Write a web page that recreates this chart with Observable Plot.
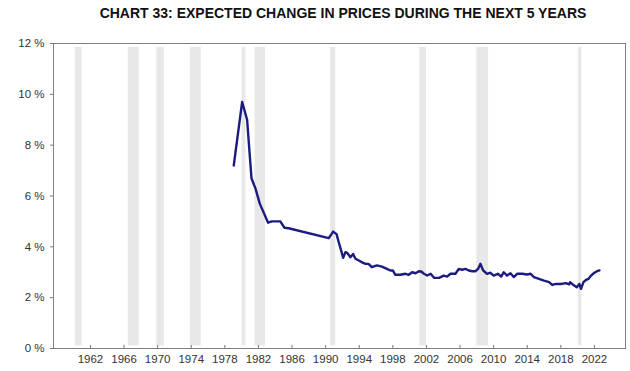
<!DOCTYPE html>
<html>
<head>
<meta charset="utf-8">
<script src="https://cdn.jsdelivr.net/npm/d3@7"></script>
<script src="https://cdn.jsdelivr.net/npm/@observablehq/plot@0.6"></script>
<style>
  body { margin: 0; background: #fff; font-family: "Liberation Sans", Arial, sans-serif; }
  #wrap { position: relative; width: 630px; height: 371px; }
  #title { position: absolute; left: 55px; width: 576px; top: 5px; text-align: center;
           font-weight: bold; font-size: 14px; color: #111; }
  #ylab { position: absolute; left: 9px; top: 187px; transform: translate(-50%, -50%) rotate(-90deg);
          white-space: nowrap; font-size: 11.5px; color: #333; }
  #chart { position: absolute; left: 0; top: 30px; }
</style>
</head>
<body>
<div id="wrap">
  <div id="title">CHART 33: EXPECTED CHANGE IN PRICES DURING THE NEXT 5 YEARS</div>
  <div id="ylab">MEDIAN PRICE INCREASE</div>
  <div id="chart"></div>
</div>
<script>
const years = [1979.06,1980.06,1980.65,1981.17,1981.64,1982.16,1983.15,1983.6,1984.6,1985.1,
  1985.6,1990.37,1990.9,1991.3,1991.56,1991.84,1992.08,1992.36,1992.6,1992.95,
  1993.27,1993.55,1993.95,1994.34,1994.74,1995.1,1995.5,1996.1,1996.7,1997.3,
  1997.7,1998.0,1998.3,1998.9,1999.5,1999.9,2000.3,2000.7,2001.1,2001.4,
  2001.7,2002.1,2002.5,2002.9,2003.5,2004.06,2004.46,2004.86,2005.45,2005.85,
  2006.25,2006.65,2007.04,2007.44,2007.83,2008.15,2008.43,2008.75,2009.2,2009.6,
  2010.0,2010.5,2010.9,2011.2,2011.6,2012.0,2012.4,2012.8,2013.4,2014.0,
  2014.4,2014.8,2015.4,2016.0,2016.6,2017.0,2017.4,2018.0,2018.6,2019.0,
  2019.1,2019.5,2019.9,2020.2,2020.4,2020.7,2021.0,2021.3,2021.6,2021.9,
  2022.3,2022.6];
const medianIncrease = [7.2,9.7,9.0,6.7,6.3,5.7,4.95,5.0,5.0,4.75,
  4.73,4.34,4.6,4.5,4.18,3.86,3.57,3.79,3.75,3.59,
  3.72,3.53,3.46,3.39,3.33,3.33,3.2,3.27,3.22,3.13,
  3.07,3.07,2.9,2.9,2.94,2.9,3.0,2.96,3.04,3.03,
  2.94,2.87,2.94,2.78,2.78,2.87,2.83,2.94,2.94,3.13,
  3.1,3.13,3.07,3.04,3.04,3.13,3.33,3.07,2.94,2.98,
  2.87,2.94,2.83,3.0,2.87,2.96,2.81,2.94,2.94,2.91,
  2.94,2.81,2.74,2.67,2.61,2.5,2.54,2.54,2.57,2.52,
  2.61,2.5,2.41,2.54,2.35,2.61,2.7,2.74,2.87,2.96,
  3.04,3.07];
const recessionStart = [1960.2,1966.5,1969.9,1973.9,1980.05,1981.6,1990.6,2001.2,2008.0,2020.1];
const recessionEnd   = [1961.0,1967.8,1970.8,1975.2,1980.5,1982.85,1991.2,2002.0,2009.4,2020.5];
const xTicks = [1962,1966,1970,1974,1978,1982,1986,1990,1994,1998,2002,2006,2010,2014,2018,2022];
const yTicks = [0,2,4,6,8,10,12];

const series = years.map((x, i) => ({x, y: medianIncrease[i]}));
const bands = recessionStart.map((s, i) => ({x1: s, x2: recessionEnd[i]}));

const chart = Plot.plot({
  width: 630,
  height: 341,
  marginLeft: 53,
  marginRight: 5,
  marginTop: 13,
  marginBottom: 23,
  style: {fontFamily: "Liberation Sans, Arial, sans-serif", fontSize: "11.5px", color: "#333", background: "#fff"},
  x: {domain: [1957.6, 2025.7]},
  y: {domain: [0, 12]},
  marks: [
    Plot.rect(bands, {x1: "x1", x2: "x2", y1: 0.1, y2: 11.85, fill: "#e8e8e8"}),
    Plot.ruleX(xTicks, {y1: 0, y2: 0.12, stroke: "#777"}),
    Plot.axisX({ticks: xTicks, tickFormat: d => String(d), tickSize: 0, tickPadding: 6, label: null, fill: "#333"}),
    Plot.axisY({ticks: yTicks, tickFormat: d => d + " %", tickSize: 3, tickPadding: 6, label: null, stroke: "#777", fill: "#333"}),
    Plot.line(series, {x: "x", y: "y", stroke: "#1b1b80", strokeWidth: 2.4, strokeLinejoin: "round"}),
    Plot.frame({stroke: "#808080"})
  ]
});
document.getElementById("chart").appendChild(chart);
</script>
</body>
</html>
